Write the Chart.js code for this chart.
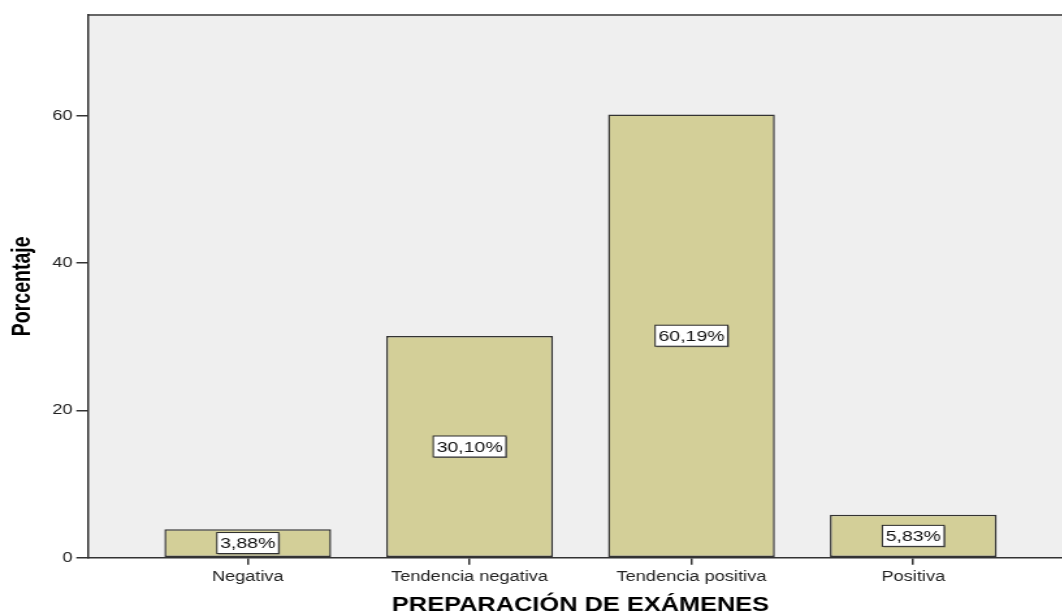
<!DOCTYPE html>
<html>
<head>
<meta charset="utf-8">
<script src="https://cdn.jsdelivr.net/npm/chart.js@4"></script>
<style>
  html, body { margin: 0; padding: 0; background: #fff; overflow: hidden; }
</style>
</head>
<body>
<!-- el gráfico original está estirado a lo ancho: se dibuja a 825 px y se muestra a 1073 px -->
<canvas id="grafico" width="825" height="615" style="display:block;width:1073px;height:615px;"></canvas>
<script>
// Datos del gráfico
const categorias = ["Negativa", "Tendencia negativa", "Tendencia positiva", "Positiva"];
const porcentajes = [3.88, 30.10, 60.19, 5.83];
const ticksY = [0, 20, 40, 60];

const FUENTE = "'Liberation Sans', Arial, sans-serif";

// Fondo gris del área de trazado y borde superior
const fondoArea = {
    id: "fondoArea",
    beforeDraw(chart) {
        const { ctx, chartArea: a } = chart;
        ctx.save();
        ctx.fillStyle = "#efefef";
        ctx.fillRect(a.left, a.top, a.right - a.left, a.bottom - a.top);
        ctx.strokeStyle = "#666";
        ctx.lineWidth = 2;
        ctx.beginPath();
        ctx.moveTo(a.left, a.top);
        ctx.lineTo(a.right, a.top);
        ctx.stroke();
        ctx.restore();
    }
};

// Etiquetas con recuadro blanco en el centro de cada barra
const etiquetas = {
    id: "etiquetas",
    afterDatasetsDraw(chart) {
        const ctx = chart.ctx;
        const meta = chart.getDatasetMeta(0);
        ctx.save();
        ctx.font = "15px " + FUENTE;
        ctx.textAlign = "center";
        ctx.textBaseline = "middle";
        meta.data.forEach((barra, i) => {
            const texto = porcentajes[i].toFixed(2).replace(".", ",") + "%";
            const cx = barra.x;
            const cy = (barra.y + barra.base) / 2;
            const w = ctx.measureText(texto).width + 5;
            const h = 21;
            ctx.fillStyle = "#7f7f70";
            ctx.fillRect(cx - w / 2 + 1, cy - h / 2 + 1, w, h);
            ctx.fillStyle = "#fff";
            ctx.fillRect(cx - w / 2, cy - h / 2, w, h);
            ctx.strokeStyle = "#2a2a2a";
            ctx.lineWidth = 1;
            ctx.strokeRect(cx - w / 2, cy - h / 2, w, h);
            ctx.fillStyle = "#111";
            ctx.fillText(texto, cx, cy + 1);
        });
        ctx.restore();
    }
};

new Chart(document.getElementById("grafico"), {
    type: "bar",
    data: {
        datasets: [{
            label: "Porcentaje",
            data: porcentajes.map((v, i) => ({ x: i, y: v })),
            backgroundColor: "#d3cf98",
            borderColor: "#333",
            borderWidth: 1.5,
            borderSkipped: false,
            barPercentage: 0.752,
            categoryPercentage: 1
        }]
    },
    options: {
        responsive: false,
        animation: false,
        devicePixelRatio: 1,
        layout: { padding: { top: 15, right: 0, bottom: 0, left: 0 } },
        plugins: {
            legend: { display: false },
            tooltip: { enabled: false }
        },
        scales: {
            x: {
                type: "linear",
                offset: false,
                min: -0.72,
                max: 3.72,
                afterBuildTicks: s => { s.ticks = categorias.map((c, i) => ({ value: i })); },
                ticks: {
                    callback: v => categorias[v],
                    color: "#222",
                    font: { family: FUENTE, size: 14 },
                    padding: 4,
                    maxRotation: 0,
                    autoSkip: false
                },
                grid: { offset: false, drawOnChartArea: false, drawTicks: true, tickLength: 7, color: "#333", lineWidth: 1.5 },
                border: { display: true, color: "#333", width: 1.5 },
                title: {
                    display: true,
                    text: "PREPARACIÓN DE EXÁMENES",
                    color: "#000",
                    font: { family: FUENTE, size: 19.5, weight: "bold", lineHeight: 1 },
                    padding: { top: 6, bottom: 0 }
                }
            },
            y: {
                min: 0,
                max: 73.7,
                afterBuildTicks: s => { s.ticks = ticksY.map(v => ({ value: v })); },
                afterFit: s => { s.width = 67.7; },
                ticks: {
                    color: "#222",
                    font: { family: FUENTE, size: 14 },
                    padding: 3
                },
                grid: { drawOnChartArea: false, drawTicks: true, tickLength: 9, color: "#333", lineWidth: 1.5 },
                border: { display: true, color: "#333", width: 1.5 },
                title: {
                    display: true,
                    text: "Porcentaje",
                    color: "#000",
                    font: { family: FUENTE, size: 19.5, weight: "bold", lineHeight: 1 },
                    padding: { top: 7.5, bottom: 0 }
                }
            }
        }
    },
    plugins: [fondoArea, etiquetas]
});
</script>
</body>
</html>
